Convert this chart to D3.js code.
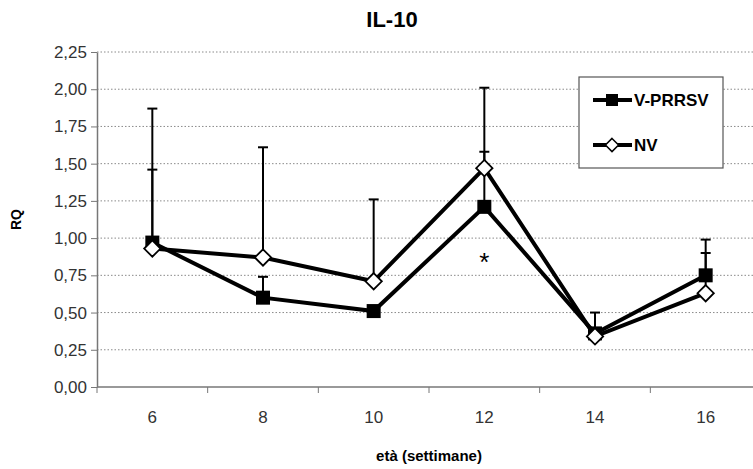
<!DOCTYPE html>
<html>
<head>
<meta charset="utf-8">
<script src="https://cdn.jsdelivr.net/npm/d3@7"></script>
<style>
  body { margin: 0; background: #fff; }
  svg { font-family: Arial, "Liberation Sans", sans-serif; }
</style>
</head>
<body>
<div id="chart"></div>
<script>
// IL-10 RQ by age (weeks)
const weeks = ['6', '8', '10', '12', '14', '16'];
const vprrsv = [0.97, 0.60, 0.51, 1.21, 0.36, 0.75];
const vprrsvErr = [1.46, 0.74, null, 1.58, 0.50, 0.99];
const nv = [0.93, 0.87, 0.71, 1.47, 0.34, 0.63];
const nvErr = [1.87, 1.61, 1.26, 2.01, null, 0.90];
const yTicks = [0, 0.25, 0.5, 0.75, 1, 1.25, 1.5, 1.75, 2, 2.25];

const width = 753, height = 469;
const margin = { top: 52, right: -8, bottom: 82, left: 97 };

const svg = d3.select('#chart').append('svg')
  .attr('width', width)
  .attr('height', height);

const x = d3.scaleBand()
  .domain(weeks)
  .range([margin.left, width - margin.right])
  .padding(0);

const y = d3.scaleLinear()
  .domain([0, 2.25])
  .range([height - margin.bottom, margin.top]);

const cx = d => x(d) + x.bandwidth() / 2;

// gridlines (dotted)
svg.append('g')
  .selectAll('line')
  .data(yTicks.filter(d => d > 0))
  .join('line')
  .attr('x1', margin.left)
  .attr('x2', width)
  .attr('y1', d => y(d))
  .attr('y2', d => y(d))
  .attr('stroke', '#8a8a8a')
  .attr('stroke-width', 1)
  .attr('stroke-dasharray', '1.5,2');

// y axis
const fmt = d => d3.format('.2f')(d).replace('.', ',');
const yAxis = svg.append('g')
  .attr('transform', `translate(${margin.left},0)`)
  .call(d3.axisLeft(y).tickValues(yTicks).tickFormat(fmt).tickSize(6).tickSizeOuter(0).tickPadding(4));
yAxis.select('.domain').attr('stroke', '#777').attr('stroke-width', 1.5);
yAxis.selectAll('.tick line').attr('stroke', '#777');
yAxis.selectAll('text').attr('font-size', 17).attr('fill', '#333');

// x axis: ticks at category boundaries
const xAxis = svg.append('g')
  .attr('transform', `translate(0,${y(0)})`);
xAxis.append('line')
  .attr('x1', margin.left).attr('x2', width)
  .attr('stroke', '#777').attr('stroke-width', 1.5);
xAxis.selectAll('line.tk')
  .data(weeks)
  .join('line')
  .attr('class', 'tk')
  .attr('x1', d => x(d)).attr('x2', d => x(d))
  .attr('y1', 0).attr('y2', 6)
  .attr('stroke', '#777');
xAxis.selectAll('text')
  .data(weeks)
  .join('text')
  .attr('x', d => cx(d))
  .attr('y', 36)
  .attr('text-anchor', 'middle')
  .attr('font-size', 17)
  .attr('fill', '#333')
  .text(d => d);

// error bars (upward only)
function errBars(vals, errs, sw) {
  const data = weeks.map((w, i) => ({ w, v: vals[i], e: errs[i] })).filter(d => d.e != null);
  const g = svg.append('g').attr('stroke', '#000').attr('stroke-width', sw);
  g.selectAll('line.v').data(data).join('line')
    .attr('class', 'v')
    .attr('x1', d => cx(d.w)).attr('x2', d => cx(d.w))
    .attr('y1', d => y(d.v)).attr('y2', d => y(d.e));
  g.selectAll('line.c').data(data).join('line')
    .attr('class', 'c')
    .attr('x1', d => cx(d.w) - 5).attr('x2', d => cx(d.w) + 5)
    .attr('y1', d => y(d.e)).attr('y2', d => y(d.e));
}
errBars(nv, nvErr, 2);
errBars(vprrsv, vprrsvErr, 2);

// lines
const line = d3.line().x((d, i) => cx(weeks[i])).y(d => y(d));
svg.append('path').datum(vprrsv)
  .attr('d', line).attr('fill', 'none').attr('stroke', '#000').attr('stroke-width', 4);
svg.append('path').datum(nv)
  .attr('d', line).attr('fill', 'none').attr('stroke', '#000').attr('stroke-width', 4);

// markers
svg.append('g').selectAll('rect')
  .data(vprrsv)
  .join('rect')
  .attr('x', (d, i) => cx(weeks[i]) - 7)
  .attr('y', d => y(d) - 7)
  .attr('width', 14).attr('height', 14)
  .attr('fill', '#000');

const diamond = d3.symbol().type(d3.symbolDiamond2).size(170);
svg.append('g').selectAll('path')
  .data(nv)
  .join('path')
  .attr('transform', (d, i) => `translate(${cx(weeks[i])},${y(d)})`)
  .attr('d', diamond)
  .attr('fill', '#fff')
  .attr('stroke', '#000')
  .attr('stroke-width', 1.8);

// significance mark
svg.append('text')
  .attr('x', cx('12'))
  .attr('y', y(0.78))
  .attr('text-anchor', 'middle')
  .attr('font-size', 26)
  .text('*');

// title and axis titles
svg.append('text')
  .attr('x', 392).attr('y', 27)
  .attr('text-anchor', 'middle')
  .attr('font-size', 22).attr('font-weight', 'bold')
  .text('IL-10');

svg.append('text')
  .attr('transform', `translate(21,${(y(0) + y(2.25)) / 2}) rotate(-90)`)
  .attr('text-anchor', 'middle')
  .attr('font-size', 14).attr('font-weight', 'bold')
  .text('RQ');

svg.append('text')
  .attr('x', 429).attr('y', 461)
  .attr('text-anchor', 'middle')
  .attr('font-size', 15).attr('font-weight', 'bold')
  .text('età (settimane)');

// legend
const lg = svg.append('g').attr('transform', 'translate(579,77)');
lg.append('rect')
  .attr('width', 144).attr('height', 91)
  .attr('fill', '#fff').attr('stroke', '#555').attr('stroke-width', 1.2);
const entries = [
  { name: 'V-PRRSV', type: 'square', y: 23 },
  { name: 'NV', type: 'diamond', y: 68 }
];
entries.forEach(e => {
  lg.append('line')
    .attr('x1', 14).attr('x2', 53).attr('y1', e.y).attr('y2', e.y)
    .attr('stroke', '#000').attr('stroke-width', 4);
  if (e.type === 'square') {
    lg.append('rect').attr('x', 27).attr('y', e.y - 6).attr('width', 12).attr('height', 12).attr('fill', '#000');
  } else {
    lg.append('path')
      .attr('transform', `translate(33,${e.y})`)
      .attr('d', d3.symbol().type(d3.symbolDiamond2).size(110))
      .attr('fill', '#fff').attr('stroke', '#000').attr('stroke-width', 1.5);
  }
  lg.append('text')
    .attr('x', 55).attr('y', e.y + 6)
    .attr('font-size', 17).attr('font-weight', 'bold')
    .text(e.name);
});
</script>
</body>
</html>
